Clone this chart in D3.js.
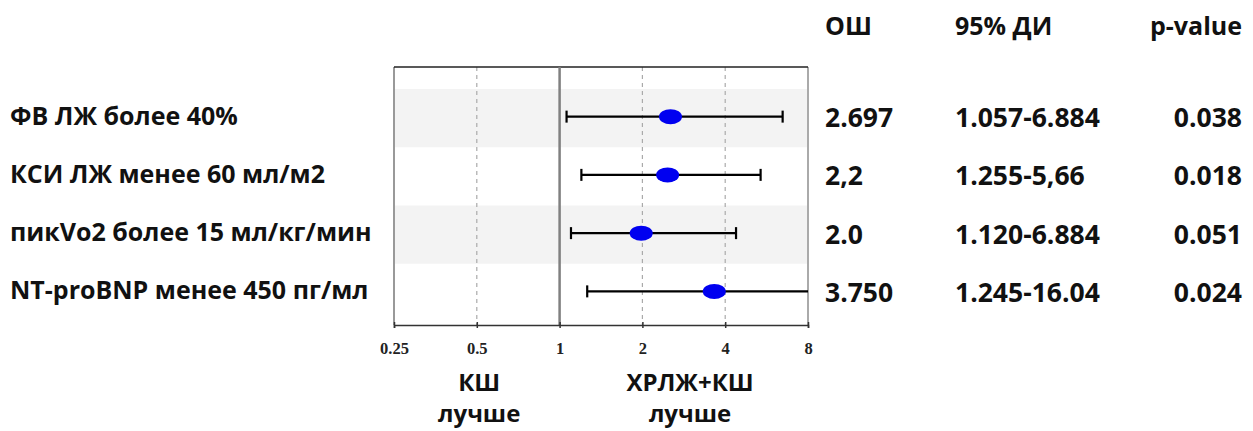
<!DOCTYPE html>
<html><head><meta charset="utf-8">
<script src="https://cdn.jsdelivr.net/npm/d3@7"></script>
<style>
html,body{margin:0;padding:0;background:#fff;}
svg{display:block;}
.lbl{font-family:"Open Sans",sans-serif;font-weight:700;fill:#111;}
.tick text{font-family:"Liberation Serif","Times New Roman",serif;font-weight:700;font-size:16.5px;fill:#222;}
</style></head>
<body>
<svg id="chart" width="1253" height="431"></svg>
<script>
const categories = ["ФВ ЛЖ более 40%", "КСИ ЛЖ менее 60 мл/м2", "пикVo2 более 15 мл/кг/мин", "NT-proBNP менее 450 пг/мл"];
const orPoint = [2.53, 2.47, 1.98, 3.65];
const ciLow = [1.06, 1.20, 1.10, 1.26];
const ciHigh = [6.47, 5.38, 4.38, 16.04];
const orText = ["2.697", "2,2", "2.0", "3.750"];
const ciText = ["1.057-6.884", "1.255-5,66", "1.120-6.884", "1.245-16.04"];
const pText = ["0.038", "0.018", "0.051", "0.024"];
const headers = ["ОШ", "95% ДИ", "p-value"];
const tickValues = [0.25, 0.5, 1, 2, 4, 8];
const tickLabels = ["0.25", "0.5", "1", "2", "4", "8"];
const gridValues = [0.5, 2, 4];
const sideLabels = [["КШ", "лучше"], ["ХРЛЖ+КШ", "лучше"]];
const sideAt = [0.51, 2.98];

const svg = d3.select("#chart");
const x = d3.scaleLog().base(2).domain([0.25, 8]).range([394, 808]);
const y = d3.scaleBand().domain(categories).range([89, 322]);
const yTop = 67, yBottom = 325;

// shaded bands
svg.selectAll("rect.band").data(categories.filter((d,i)=>i%2===0)).join("rect")
  .attr("x", x(0.25)).attr("width", x(8)-x(0.25))
  .attr("y", d=>y(d)).attr("height", y.bandwidth())
  .attr("fill", "#f3f3f3");

// grid
svg.selectAll("line.grid").data(gridValues).join("line")
  .attr("x1", d=>x(d)).attr("x2", d=>x(d)).attr("y1", yTop).attr("y2", yBottom)
  .attr("stroke", "#aaa").attr("stroke-width", 1.2).attr("stroke-dasharray", "4,4");

// frame
svg.append("line").attr("x1", x(0.25)).attr("x2", x(0.25)).attr("y1", yTop).attr("y2", yBottom)
  .attr("stroke", "#999").attr("stroke-width", 2);
svg.append("line").attr("x1", x(8)).attr("x2", x(8)).attr("y1", yTop).attr("y2", yBottom)
  .attr("stroke", "#aaa").attr("stroke-width", 2);
svg.append("line").attr("x1", x(0.25)).attr("x2", x(8)).attr("y1", yTop).attr("y2", yTop)
  .attr("stroke", "#222").attr("stroke-width", 1.5);
svg.append("line").attr("x1", x(1)).attr("x2", x(1)).attr("y1", yTop).attr("y2", yBottom)
  .attr("stroke", "#808080").attr("stroke-width", 2.5);

// axis
const axis = d3.axisBottom(x).tickValues(tickValues).tickFormat((d,i)=>tickLabels[i]).tickSize(3).tickPadding(14);
const ax = svg.append("g").attr("transform", `translate(0,${yBottom})`).call(axis);
ax.select(".domain").attr("stroke", "#333").attr("stroke-width", 1.5);
ax.selectAll(".tick line").attr("y1", -3).attr("stroke", "#333").attr("stroke-width", 1.5);

// CI lines
const yc = (d,i) => y(categories[i]) + y.bandwidth()/2 - 1.5;
const clampX = v => x(Math.min(8, Math.max(0.25, v)));
const rows = svg.selectAll("g.row").data(categories).join("g");
rows.append("line").attr("x1", (d,i)=>clampX(ciLow[i])).attr("x2", (d,i)=>clampX(ciHigh[i]))
  .attr("y1", yc).attr("y2", yc).attr("stroke", "#000").attr("stroke-width", 2.2);
rows.append("line").attr("x1", (d,i)=>clampX(ciLow[i])).attr("x2", (d,i)=>clampX(ciLow[i]))
  .attr("y1", (d,i)=>yc(d,i)-6).attr("y2", (d,i)=>yc(d,i)+6).attr("stroke", "#000").attr("stroke-width", 2.2);
rows.filter((d,i)=>ciHigh[i] <= 8).append("line")
  .attr("x1", d=>clampX(ciHigh[categories.indexOf(d)])).attr("x2", d=>clampX(ciHigh[categories.indexOf(d)]))
  .attr("y1", d=>yc(d,categories.indexOf(d))-6).attr("y2", d=>yc(d,categories.indexOf(d))+6)
  .attr("stroke", "#000").attr("stroke-width", 2.2);
rows.append("ellipse").attr("cx", (d,i)=>x(orPoint[i])).attr("cy", yc)
  .attr("rx", 11.5).attr("ry", 7.5).attr("fill", "#0000f0");

// left labels
svg.selectAll("text.cat").data(categories).join("text").attr("class", "lbl")
  .attr("x", 10).attr("y", (d,i)=>y(d)+y.bandwidth()/2 + 6.5)
  .attr("font-size", 25).text(d=>d);

// right columns
const colX = [825, 955, 1242];
const colAnchor = ["start", "start", "end"];
svg.selectAll("text.hdr").data(headers).join("text").attr("class", "lbl")
  .attr("x", (d,i)=>colX[i]).attr("y", 35).attr("text-anchor", (d,i)=>colAnchor[i])
  .attr("font-size", 25).text(d=>d);
[orText, ciText, pText].forEach((arr, c) => {
  svg.selectAll(null).data(arr).join("text").attr("class", "lbl")
    .attr("x", colX[c]).attr("text-anchor", colAnchor[c])
    .attr("y", (d,i)=>y(categories[i]) + y.bandwidth()/2 + 9)
    .attr("font-size", 26.5).text(d=>d);
});

// bottom side labels
sideLabels.forEach((pair, k) => {
  const cx = x(sideAt[k]);
  svg.append("text").attr("class", "lbl").attr("x", cx).attr("y", 391).attr("text-anchor", "middle")
    .attr("font-size", 24).text(pair[0]);
  svg.append("text").attr("class", "lbl").attr("x", cx).attr("y", 422).attr("text-anchor", "middle")
    .attr("font-size", 24).text(pair[1]);
});
</script>
</body></html>
